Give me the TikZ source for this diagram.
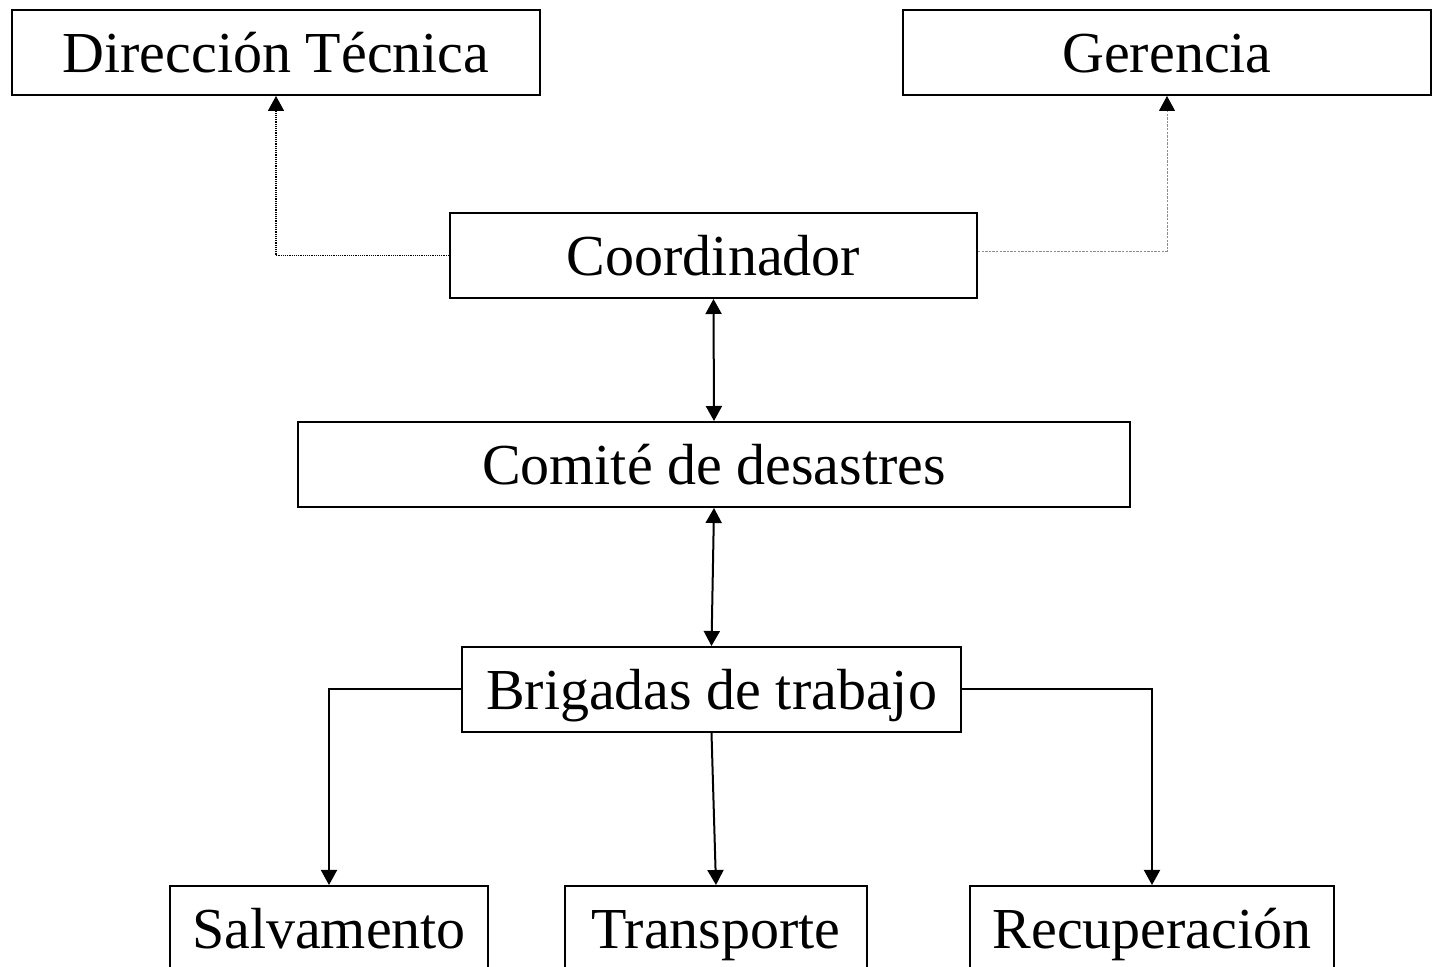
\documentclass[tikz,border=0pt]{standalone}
\usepackage{fontspec}
\setmainfont{Liberation Serif}
\usetikzlibrary{arrows.meta}
\begin{document}
\begin{tikzpicture}[x=0.5pt,y=-0.5pt,
  box/.style={draw,line width=1pt,inner xsep=0pt,inner ysep=0pt,
    text height=31.5pt,text depth=11pt,anchor=north,
    font=\fontsize{29pt}{34pt}\selectfont},
  tip/.style={-{Triangle[length=7.5pt,width=8pt]}},
  conn/.style={line width=1pt},
  dots/.style={line width=0.85pt,dash pattern=on 0.6pt off 0.5pt},
  grayd/.style={line width=0.5pt,draw=black!45,dash pattern=on 1.2pt off 0.6pt}]
\clip (0,0) rectangle (1437,967);
\node[box,minimum width=264pt] (dir) at (276,9) {Dirección Técnica};
\node[box,minimum width=264pt] (ger) at (1167,9) {Gerencia};
\node[box,minimum width=263.5pt] (coord) at (713.5,212) {Coordinador};
\node[box,minimum width=416pt] (com) at (714,421) {Comité de desastres};
\node[box,minimum width=249.5pt] (brig) at (711.5,646) {Brigadas de trabajo};
\node[box,minimum width=159pt] (salv) at (329,885) {Salvamento};
\node[box,minimum width=151pt] (trans) at (716,885) {Transporte};
\node[box,minimum width=182pt] (recu) at (1152,885) {Recuperación};
\draw[dots,tip] (coord.west) -| (dir.south);
\draw[grayd,-{Triangle[length=7.5pt,width=8pt,color=black]}] ([yshift=2.2pt]coord.east) -| (ger.south);
\draw[conn,{Triangle[length=7.5pt,width=8pt]}-{Triangle[length=7.5pt,width=8pt]}] (coord.south) -- (com.north);
\draw[conn,{Triangle[length=7.5pt,width=8pt]}-{Triangle[length=7.5pt,width=8pt]}] (com.south) -- (brig.north);
\draw[conn,tip] (brig.west) -| (salv.north);
\draw[conn,tip] (brig.south) -- (trans.north);
\draw[conn,tip] (brig.east) -| (recu.north);
\end{tikzpicture}
\end{document}
